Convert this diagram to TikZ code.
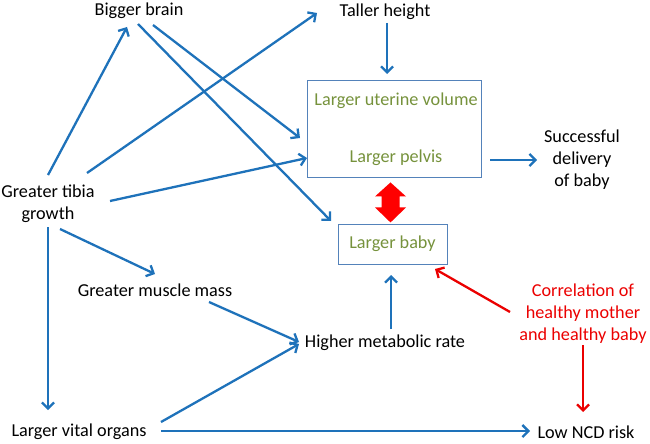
\documentclass[tikz,border=0pt]{standalone}
\usepackage{fontspec}
\setmainfont{Carlito}
\usetikzlibrary{arrows.meta,calc}
\definecolor{lblue}{RGB}{30,114,186}
\definecolor{boxblue}{RGB}{84,130,186}
\definecolor{olive}{RGB}{118,146,60}
\definecolor{myred}{RGB}{235,0,0}
\tikzset{
  lbl/.style={inner sep=0pt, font=\fontsize{18.2}{22}\selectfont, align=center},
  grn/.style={lbl, text=olive},
  redtxt/.style={lbl, text=myred},
  boxnode/.style={draw=boxblue, line width=0.9pt, inner sep=0pt},
  arr/.style={draw=lblue, line width=2.3pt, -{Straight Barb[length=6pt,width=12pt,line width=2.3pt]}},
  rarr/.style={draw=myred, line width=2.3pt, -{Straight Barb[length=6pt,width=12pt,line width=2.3pt]}},
}
\begin{document}
\begin{tikzpicture}[x=1pt,y=-1pt]
\useasboundingbox (0,0) rectangle (650,444);
% nodes
\node[lbl] (brain) at (139,11) {Bigger brain};
\node[lbl] (height) at (385,12) {Taller height};
\node[lbl] (tibia) at (48,204) {Greater tibia\\growth};
\node[lbl] (muscle) at (155,290) {Greater muscle mass};
\node[lbl] (vital) at (79,432) {Larger vital organs};
\node[lbl] (metab) at (385,343) {Higher metabolic rate};
\node[boxnode, minimum width=174pt, minimum height=97pt] (box) at (394,128.5) {};
\node[grn] (uterine) at (396,101) {Larger uterine volume};
\node[grn] (pelvis) at (396,158) {Larger pelvis};
\node[boxnode, minimum width=109pt, minimum height=40pt] (baby) at (392.5,244) {};
\node[grn] (babytxt) at (392.5,244) {Larger baby};
\node[lbl] (success) at (582,160) {Successful\\delivery\\of baby};
\node[redtxt] (corr) at (583,314) {Correlation of\\healthy mother\\and healthy baby};
\node[lbl] (ncd) at (586,432) {Low NCD risk};
% red double arrow between box and baby
\fill[red] ($(box.south)+(-3.5,5)$) coordinate (dtop)
  -- ($(dtop)+(15.5,14)$) -- ($(dtop)+(9,14)$) -- ($(dtop)+(9,25)$) -- ($(dtop)+(15.5,25)$)
  -- ($(dtop)+(0,40)$)
  -- ($(dtop)+(-15.5,25)$) -- ($(dtop)+(-9,25)$) -- ($(dtop)+(-9,14)$) -- ($(dtop)+(-15.5,14)$) -- cycle;
% arrows
\draw[arr] ($(tibia)+(0,-29)$) -- ($(brain)+(-12,16)$);
\draw[arr] ($(tibia)+(39,-31)$) -- ($(height)+(-68,1)$);
\draw[arr] ($(tibia)+(62,-3)$) -- ($(box)+(-87,29.5)$);
\draw[arr] ($(brain)+(14,14)$) -- ($(box)+(-94,9.5)$);
\draw[arr] ($(brain)+(-1,13)$) -- ($(baby)+(-61.5,-23)$);
\draw[arr] ($(tibia)+(0,23)$) -- ($(vital)+(-31,-22)$);
\draw[arr] ($(tibia)+(12,25)$) -- ($(muscle)+(0,-16)$);
\draw[arr] ($(muscle)+(54,12)$) -- ($(metab)+(-86,-1)$);
\draw[arr] ($(vital)+(82,-10)$) -- ($(metab)+(-86,1)$);
\draw[arr] ($(vital)+(82,-1)$) -- ($(ncd)+(-56,-1)$);
\draw[arr] ($(height)+(2,11)$) -- ($(box)+(-7,-54.5)$);
\draw[arr] ($(box)+(96,31.5)$) -- ($(success)+(-45,0)$);
\draw[arr] ($(metab)+(6,-14)$) -- ($(baby)+(-1.5,31)$);
\draw[rarr] ($(corr)+(-73,-2)$) -- ($(baby)+(42.5,25)$);
\draw[rarr] ($(corr)+(0,31)$) -- ($(ncd)+(-3,-20)$);
\end{tikzpicture}
\end{document}
